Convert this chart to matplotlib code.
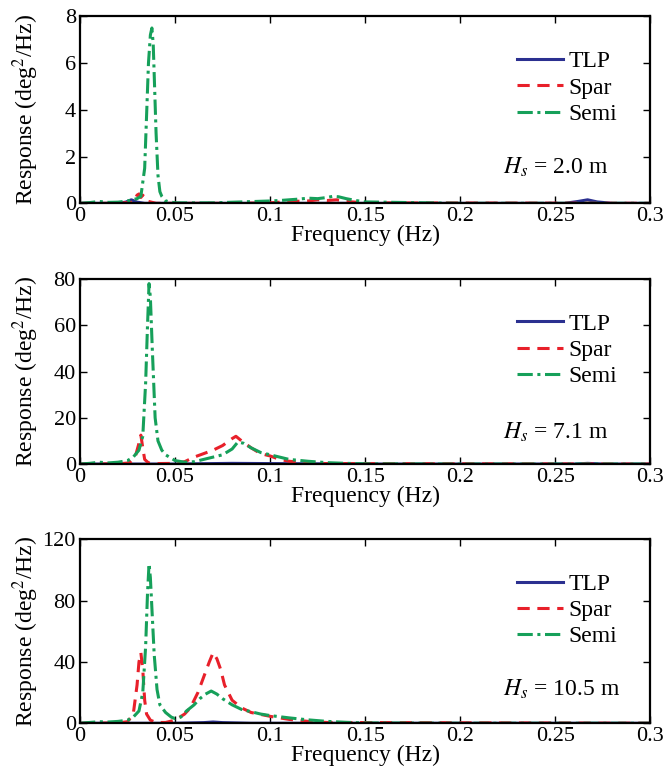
import matplotlib.pyplot as plt

plt.rcParams['font.family'] = ['Liberation Serif', 'DejaVu Serif']
plt.rcParams['mathtext.fontset'] = 'stix'

# ---- data (frequency in Hz, response in deg^2/Hz) ----
# Hs = 2.0 m
f_tlp_1 = [0.0, 0.02, 0.024, 0.027, 0.030, 0.034, 0.05, 0.1, 0.2, 0.255, 0.262, 0.267, 0.272, 0.28, 0.3]
r_tlp_1 = [0.0, 0.0, 0.05, 0.15, 0.05, 0.0, 0.0, 0.0, 0.0, 0.0, 0.08, 0.15, 0.06, 0.0, 0.0]

f_spar_1 = [0.0, 0.02, 0.028, 0.030, 0.031, 0.032, 0.033, 0.035, 0.04, 0.08, 0.1, 0.11, 0.12, 0.125, 0.13, 0.135, 0.14, 0.15, 0.3]
r_spar_1 = [0.0, 0.0, 0.05, 0.35, 0.4, 0.25, 0.35, 0.1, 0.0, 0.0, 0.02, 0.08, 0.1, 0.15, 0.12, 0.15, 0.08, 0.02, 0.0]

f_semi_1 = [0.0, 0.005, 0.01, 0.015, 0.02, 0.025, 0.030, 0.032, 0.034, 0.036, 0.037, 0.0378, 0.0385, 0.040, 0.041, 0.042, 0.043, 0.045, 0.05,
            0.07, 0.1, 0.105, 0.11, 0.115, 0.12, 0.125, 0.13, 0.133, 0.136, 0.14, 0.145, 0.15, 0.2, 0.3]
r_semi_1 = [0.0, 0.03, 0.08, 0.04, 0.05, 0.1, 0.2, 0.3, 1.5, 6.0, 7.2, 7.5, 6.8, 3.0, 1.2, 0.5, 0.3, 0.1, 0.02,
            0.02, 0.1, 0.12, 0.15, 0.18, 0.22, 0.2, 0.25, 0.3, 0.28, 0.2, 0.12, 0.06, 0.0, 0.0]

# Hs = 7.1 m
f_tlp_2 = [0.0, 0.05, 0.08, 0.1, 0.15, 0.26, 0.267, 0.275, 0.3]
r_tlp_2 = [0.0, 0.0, 0.3, 0.2, 0.0, 0.0, 0.3, 0.0, 0.0]

f_spar_2 = [0.0, 0.02, 0.026, 0.029, 0.031, 0.032, 0.033, 0.034, 0.036, 0.04, 0.05, 0.055, 0.06, 0.065, 0.07, 0.075,
            0.08, 0.082, 0.085, 0.09, 0.095, 0.1, 0.105, 0.11, 0.12, 0.13, 0.3]
r_spar_2 = [0.0, 0.1, 0.5, 3.0, 9.0, 12.5, 7.0, 2.0, 0.5, 0.2, 0.3, 1.0, 3.0, 4.5, 6.0, 8.0,
            11.0, 12.0, 10.0, 7.0, 4.5, 3.5, 2.0, 1.2, 0.5, 0.2, 0.0]

f_semi_2 = [0.0, 0.005, 0.01, 0.015, 0.02, 0.025, 0.028, 0.031, 0.033, 0.0345, 0.0355, 0.0363, 0.037, 0.038, 0.0395, 0.041,
            0.043, 0.045, 0.048, 0.05, 0.055, 0.06, 0.065, 0.07, 0.075, 0.08, 0.083, 0.086, 0.09, 0.095, 0.1, 0.105,
            0.11, 0.12, 0.13, 0.14, 0.15, 0.2, 0.3]
r_semi_2 = [0.0, 0.3, 0.8, 0.5, 0.8, 1.5, 3.0, 6.0, 12.0, 35.0, 60.0, 78.0, 72.0, 50.0, 20.0, 10.0,
            6.0, 4.0, 2.5, 1.5, 0.8, 1.0, 2.0, 3.0, 4.0, 6.5, 9.5, 9.0, 7.0, 5.0, 4.0, 3.0,
            2.0, 1.2, 0.6, 0.3, 0.1, 0.0, 0.0]

# Hs = 10.5 m
f_tlp_3 = [0.0, 0.05, 0.065, 0.07, 0.075, 0.09, 0.3]
r_tlp_3 = [0.0, 0.0, 0.4, 0.8, 0.4, 0.0, 0.0]

f_spar_3 = [0.0, 0.02, 0.025, 0.028, 0.030, 0.031, 0.032, 0.033, 0.034, 0.035, 0.037, 0.04, 0.045, 0.05, 0.055, 0.058,
            0.062, 0.065, 0.068, 0.070, 0.072, 0.074, 0.076, 0.08, 0.085, 0.09, 0.1, 0.11, 0.12, 0.13, 0.3]
r_spar_3 = [0.0, 0.2, 1.0, 6.0, 25.0, 40.0, 46.0, 35.0, 15.0, 6.0, 2.0, 0.5, 0.5, 2.0, 6.0, 10.0,
            20.0, 30.0, 40.0, 46.0, 42.0, 35.0, 25.0, 15.0, 10.0, 7.0, 4.5, 2.5, 1.2, 0.5, 0.0]

f_semi_3 = [0.0, 0.005, 0.01, 0.015, 0.02, 0.025, 0.028, 0.031, 0.033, 0.0345, 0.0355, 0.0363, 0.037, 0.038, 0.039, 0.0405,
            0.042, 0.045, 0.048, 0.05, 0.053, 0.056, 0.06, 0.063, 0.066, 0.069, 0.072, 0.075, 0.08, 0.085, 0.09, 0.095,
            0.1, 0.11, 0.12, 0.13, 0.14, 0.15, 0.2, 0.3]
r_semi_3 = [0.0, 0.5, 1.0, 0.8, 1.2, 2.0, 4.0, 8.0, 20.0, 50.0, 85.0, 104.0, 95.0, 70.0, 45.0, 22.0,
            12.0, 7.0, 4.0, 3.0, 4.0, 8.0, 12.0, 16.0, 19.0, 21.0, 19.0, 16.0, 12.0, 9.0, 7.5, 6.0,
            5.0, 3.5, 2.2, 1.2, 0.6, 0.2, 0.0, 0.0]

labels = ['TLP', 'Spar', 'Semi']
hs_labels = ['$H_s$ = 2.0 m', '$H_s$ = 7.1 m', '$H_s$ = 10.5 m']
y_max = [8, 80, 120]
y_ticks = [[0, 2, 4, 6, 8], [0, 20, 40, 60, 80], [0, 40, 80, 120]]
x_ticks = [0, 0.05, 0.1, 0.15, 0.2, 0.25, 0.3]
x_ticklabels = ['0', '0.05', '0.1', '0.15', '0.2', '0.25', '0.3']

panels = [
    [(f_tlp_1, r_tlp_1), (f_spar_1, r_spar_1), (f_semi_1, r_semi_1)],
    [(f_tlp_2, r_tlp_2), (f_spar_2, r_spar_2), (f_semi_2, r_semi_2)],
    [(f_tlp_3, r_tlp_3), (f_spar_3, r_spar_3), (f_semi_3, r_semi_3)],
]

colors = ['#2b3090', '#e8202a', '#16a05a']
styles = ['-', (0, (4, 2.5)), (0, (5, 1.5, 1, 1.5))]

fig = plt.figure(figsize=(6.67, 7.76), dpi=100)
# axes boxes in figure fraction (left, bottom, width, height)
boxes = [(0.12, 0.738, 0.855, 0.241), (0.12, 0.402, 0.855, 0.2385), (0.12, 0.068, 0.855, 0.237)]
hs_y = [0.19, 0.17, 0.185]

for i, box in enumerate(boxes):
    ax = fig.add_axes(box)
    for (f, r), lab, c, ls in zip(panels[i], labels, colors, styles):
        ax.plot(f, r, color=c, linestyle=ls, linewidth=2.2, label=lab)
    ax.set_xlim(0, 0.3)
    ax.set_ylim(0, y_max[i])
    ax.set_xticks(x_ticks)
    ax.set_xticklabels(x_ticklabels)
    ax.set_yticks(y_ticks[i])
    ax.tick_params(direction='in', top=True, right=True, labelsize=16, length=5, width=1, pad=3)
    for sp in ax.spines.values():
        sp.set_linewidth(1.6)
    ax.set_xlabel('Frequency (Hz)', fontsize=17, labelpad=-1)
    ax.set_ylabel('Response (deg$^2$/Hz)', fontsize=17)
    ax.yaxis.set_label_coords(-0.068, 0.5)
    ax.legend(loc='upper left', bbox_to_anchor=(0.767, 0.815), frameon=False, fontsize=17,
              handlelength=1.95, handletextpad=0.2, labelspacing=0.2, borderaxespad=0, borderpad=0)
    ax.text(0.742, hs_y[i], hs_labels[i], transform=ax.transAxes, ha='left', va='center', fontsize=17)

fig.savefig('out.png', dpi=100)
